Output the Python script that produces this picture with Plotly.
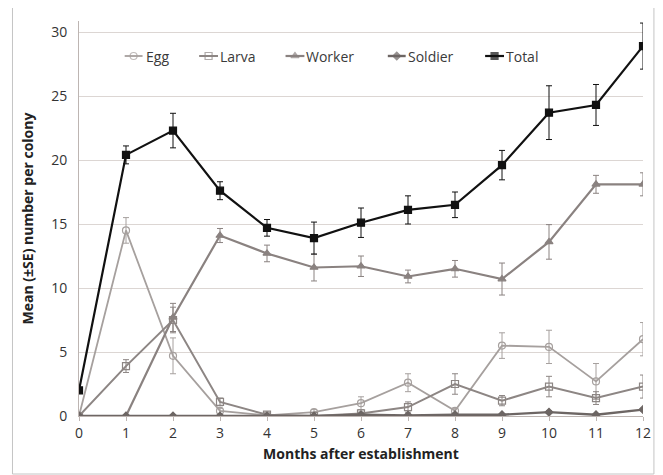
import plotly.graph_objects as go

months = list(range(13))
egg = [0, 14.5, 4.7, 0.4, 0.05, 0.3, 1.0, 2.6, 0.4, 5.5, 5.4, 2.7, 6.0]
egg_se = [0, 1.0, 1.4, 0.2, 0.05, 0.2, 0.5, 0.7, 0.2, 1.0, 1.3, 1.4, 1.3]
larva = [0, 3.9, 7.5, 1.1, 0.1, 0.0, 0.2, 0.7, 2.5, 1.2, 2.3, 1.4, 2.3]
larva_se = [0, 0.5, 1.0, 0.3, 0.05, 0.05, 0.1, 0.4, 0.8, 0.4, 0.8, 0.5, 0.9]
worker = [0, 0, 7.7, 14.1, 12.7, 11.6, 11.7, 10.9, 11.5, 10.7, 13.6, 18.1, 18.1]
worker_se = [0, 0, 1.1, 0.55, 0.65, 1.05, 0.8, 0.5, 0.65, 1.25, 1.35, 0.7, 0.9]
soldier = [0, 0, 0, 0, 0, 0, 0.1, 0.05, 0.1, 0.1, 0.3, 0.1, 0.5]
soldier_se = [0, 0, 0, 0, 0, 0, 0.05, 0.05, 0.05, 0.05, 0.1, 0.05, 0.1]
total = [2.0, 20.4, 22.3, 17.6, 14.7, 13.9, 15.1, 16.1, 16.5, 19.6, 23.7, 24.3, 28.9]
total_se = [0, 0.7, 1.35, 0.7, 0.65, 1.25, 1.15, 1.1, 1.0, 1.15, 2.1, 1.6, 1.8]
y_ticks = [0, 5, 10, 15, 20, 25, 30]

series = [
    ("Egg", egg, egg_se, "#a6a09e", "circle-open", 7, 1.8),
    ("Larva", larva, larva_se, "#8d8684", "square-open", 7, 2.0),
    ("Worker", worker, worker_se, "#8a8280", "triangle-up", 7, 2.2),
    ("Soldier", soldier, soldier_se, "#6d6664", "diamond", 6, 2.4),
    ("Total", total, total_se, "#111111", "square", 7, 2.2),
]

# plot area geometry (pixels, in the displayed page)
PX0, PW, PY0, PH = 79, 568, 21, 395


def px(X):
    return (X - PX0) / PW


def py(Y):
    return (PY0 + PH - Y) / PH


# legend layout: (line start, line end, text start) in pixels
legend_pos = [(125, 143, 146), (200, 219, 221), (287, 306, 308),
              (390, 408, 410), (488, 507, 509)]
legend_y = 56

fig = go.Figure()
for name, vals, se, col, sym, size, lw in series:
    fig.add_trace(go.Scatter(
        x=months, y=vals, name=name, mode="lines+markers", showlegend=False,
        line=dict(color=col, width=lw),
        marker=dict(symbol=sym, size=size, color=col,
                    line=dict(color=col, width=1.2)),
        error_y=dict(type="data", array=se, visible=True,
                     color=col, thickness=1, width=3),
    ))

font = "Open Sans, DejaVu Sans, sans-serif"
annotations = []
for (name, vals, se, col, sym, size, lw), (a, b, t) in zip(series, legend_pos):
    fig.add_trace(go.Scatter(
        x=[px(a), px((a + b) / 2), px(b)], y=[py(legend_y)] * 3,
        xaxis="x2", yaxis="y2", mode="lines+markers", showlegend=False,
        hoverinfo="skip", cliponaxis=False,
        line=dict(color=col, width=lw),
        marker=dict(symbol=sym, size=[0, size, 0], color=col,
                    line=dict(color=col, width=1.2)),
    ))
    annotations.append(dict(
        x=px(t - 1), y=py(legend_y), xref="paper", yref="paper",
        text=name, showarrow=False, xanchor="left", yanchor="middle",
        font=dict(family=font, size=14, color="#3a3a3a"), borderpad=0,
    ))

fig.update_layout(
    width=655, height=467,
    margin=dict(l=71, r=16, t=13, b=59),
    paper_bgcolor="white", plot_bgcolor="rgba(0,0,0,0)",
    font=dict(family=font, size=14, color="#333333"),
    showlegend=False,
    annotations=annotations,
    xaxis=dict(range=[0, 12], tickmode="array", tickvals=months,
               ticktext=[str(m) for m in months],
               showgrid=False, zeroline=False, showline=True,
               linecolor="#bdb5b2", linewidth=1,
               ticks="outside", ticklen=4, tickcolor="#bdb5b2",
               title=dict(text="<b>Months after establishment</b>",
                          font=dict(size=14, color="#222222"), standoff=8),
               tickfont=dict(size=14)),
    yaxis=dict(range=[0, 30.86], tickmode="array", tickvals=y_ticks,
               showgrid=True, gridcolor="#dcd6d3", gridwidth=1.2,
               zeroline=False, showline=True, linecolor="#bdb5b2",
               linewidth=1, ticks="", ticklabelstandoff=8,
               title=dict(text="<b>Mean (±SE) number per colony</b>",
                          font=dict(size=14, color="#222222"), standoff=14),
               tickfont=dict(size=14)),
    xaxis2=dict(range=[0, 1], overlaying="x", anchor="y2", visible=False,
                fixedrange=True),
    yaxis2=dict(range=[0, 1], overlaying="y", anchor="x2", visible=False,
                fixedrange=True),
    shapes=[dict(type="rect", xref="paper", yref="paper",
                 x0=px(12), x1=px(658), y0=py(474), y1=py(7),
                 line=dict(color="#c4c4c4", width=1), layer="above")],
)

fig.write_html("out.html")
